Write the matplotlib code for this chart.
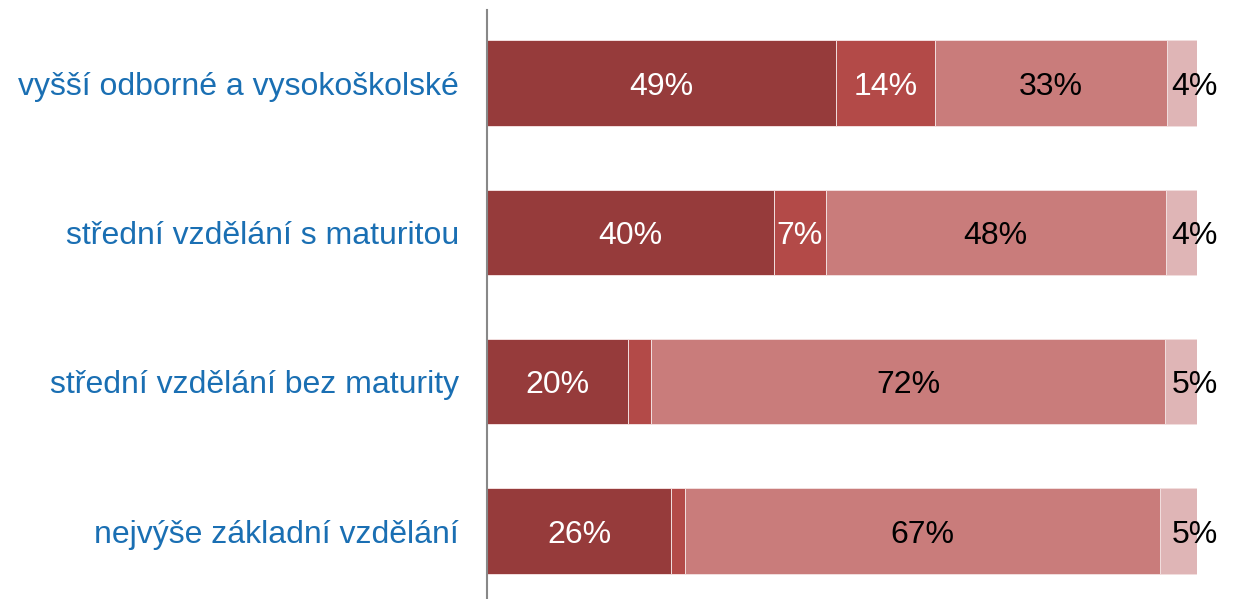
import matplotlib.pyplot as plt

plt.rcParams['font.family'] = ['Liberation Sans', 'DejaVu Sans']

categories = ['vyšší odborné a vysokoškolské', 'střední vzdělání s maturitou',
              'střední vzdělání bez maturity', 'nejvýše základní vzdělání']
seg1 = [49.2, 40.4, 19.9, 25.9]
seg2 = [13.9, 7.3, 3.2, 2.0]
seg3 = [32.7, 47.9, 72.4, 66.9]
seg4 = [4.2, 4.4, 4.5, 5.2]
labels1 = ['49%', '40%', '20%', '26%']
labels2 = ['14%', '7%', '', '']
labels3 = ['33%', '48%', '72%', '67%']
labels4 = ['4%', '4%', '5%', '5%']

colors = ['#963b3b', '#b34a48', '#c97c7b', '#dfb5b6']
text_colors = ['white', 'white', 'black', 'black']

fig = plt.figure(figsize=(12.45, 5.99), dpi=100)
ax = fig.add_axes([487 / 1245, 0, (1197 - 487) / 1245, 1 - 10 / 599])

y = list(range(len(categories)))
left = [0] * len(categories)
for vals, labs, col, tcol in zip([seg1, seg2, seg3, seg4],
                                 [labels1, labels2, labels3, labels4],
                                 colors, text_colors):
    ax.barh(y, vals, left=left, height=0.57, color=col,
            edgecolor='#f2dede', linewidth=0.7)
    for i, (v, l, lab) in enumerate(zip(vals, left, labs)):
        if not lab:
            continue
        # last segment label sits on the bar end, like the original
        xc = l + v / 2 if col != colors[3] else l + v - 0.3
        ax.text(xc, i + 0.025, lab, ha='center', va='center', color=tcol,
                fontsize=23, clip_on=False)
    left = [a + b for a, b in zip(left, vals)]

ax.set_xlim(0, 100)
ax.set_ylim(3.455, -0.489)
ax.set_yticks(y)
ax.set_yticklabels(categories, fontsize=23, color='#1a6fb3')
ax.tick_params(axis='y', length=0, pad=20)
ax.set_xticks([])
for s in ['top', 'right', 'bottom']:
    ax.spines[s].set_visible(False)
ax.spines['left'].set_color('#888888')
ax.spines['left'].set_linewidth(1.5)

fig.savefig('out.png', dpi=100)
